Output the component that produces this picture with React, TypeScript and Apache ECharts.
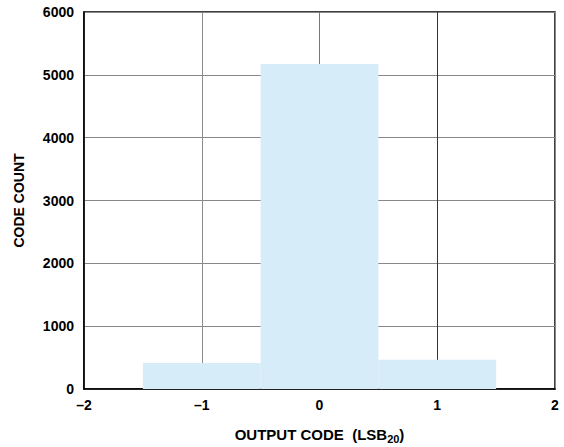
import React, { useEffect, useRef } from "react";
import * as echarts from "echarts";

const binStart: number[] = [-1.5, -0.5, 0.5];
const binEnd: number[] = [-0.5, 0.5, 1.5];
const codeCounts: number[] = [414, 5172, 466];
const xTicks: number[] = [-2, -1, 0, 1, 2];
const yTicks: number[] = [0, 1000, 2000, 3000, 4000, 5000, 6000];

export default function App() {
  const ref = useRef<HTMLDivElement>(null);
  useEffect(() => {
    if (!ref.current) return;
    const chart = echarts.init(ref.current, undefined, { renderer: "svg" });
    const data = codeCounts.map((v, i) => [binStart[i], binEnd[i], v]);
    const font = "Liberation Sans";
    chart.setOption({
      animation: false,
      backgroundColor: "#fff",
      grid: {
        left: 84, top: 12, right: 9, bottom: 58,
        outerBoundsMode: "none",
        containLabel: false,
        show: true, borderColor: "#000", borderWidth: 1.5, backgroundColor: "transparent",
      },
      xAxis: {
        type: "value",
        min: xTicks[0],
        max: xTicks[xTicks.length - 1],
        interval: 1,
        axisLine: { show: true, onZero: false, lineStyle: { color: "#000", width: 1.5 } },
        axisTick: { show: false },
        splitLine: { show: true, lineStyle: { color: ["#888", "#8a8a8a", "#777", "#333", "#888"], width: 1 } },
        axisLabel: {
          margin: 9,
          color: "#000",
          fontFamily: font,
          fontWeight: "bold",
          fontSize: 14,
          formatter: (v: number) => String(v).replace("-", "\u2013"),
        },
        name: "{a|OUTPUT CODE  (LSB}{b|20}{a|)}",
        nameLocation: "middle",
        nameGap: 36,
        nameTextStyle: {
          rich: {
            a: { fontFamily: font, fontWeight: "bold", fontSize: 15, color: "#000", verticalAlign: "bottom", lineHeight: 17 },
            b: { fontFamily: font, fontWeight: "bold", fontSize: 11, color: "#000", verticalAlign: "bottom", lineHeight: 12, padding: [0, 0, -2, 0] },
          },
        },
      },
      yAxis: {
        type: "value",
        min: yTicks[0],
        max: yTicks[yTicks.length - 1],
        interval: 1000,
        axisLine: { show: true, onZero: false, lineStyle: { color: "#000", width: 1.5 } },
        axisTick: { show: false },
        splitLine: { show: true, lineStyle: { color: "#888", width: 1 } },
        axisLabel: { margin: 10, color: "#000", fontFamily: font, fontWeight: "bold", fontSize: 14, formatter: (v: number) => String(v) },
        name: "CODE COUNT",
        nameLocation: "middle",
        nameGap: 58,
        nameTextStyle: { fontFamily: font, fontWeight: "bold", fontSize: 14, color: "#000" },
      },
      series: [
        {
          type: "custom",
          data,
          encode: { x: [0, 1], y: 2 },
          renderItem: (params: any, api: any) => {
            const p0 = api.coord([api.value(0), api.value(2)]);
            const p1 = api.coord([api.value(1), 0]);
            return {
              type: "rect",
              shape: { x: p0[0], y: p0[1], width: p1[0] - p0[0], height: p1[1] - p0[1] },
              style: { fill: "#d7ecf9" },
            };
          },
        },
      ],
    });
    return () => chart.dispose();
  }, []);
  return <div ref={ref} style={{ position: "absolute", left: 0, top: 0, width: 564, height: 447 }} />;
}
